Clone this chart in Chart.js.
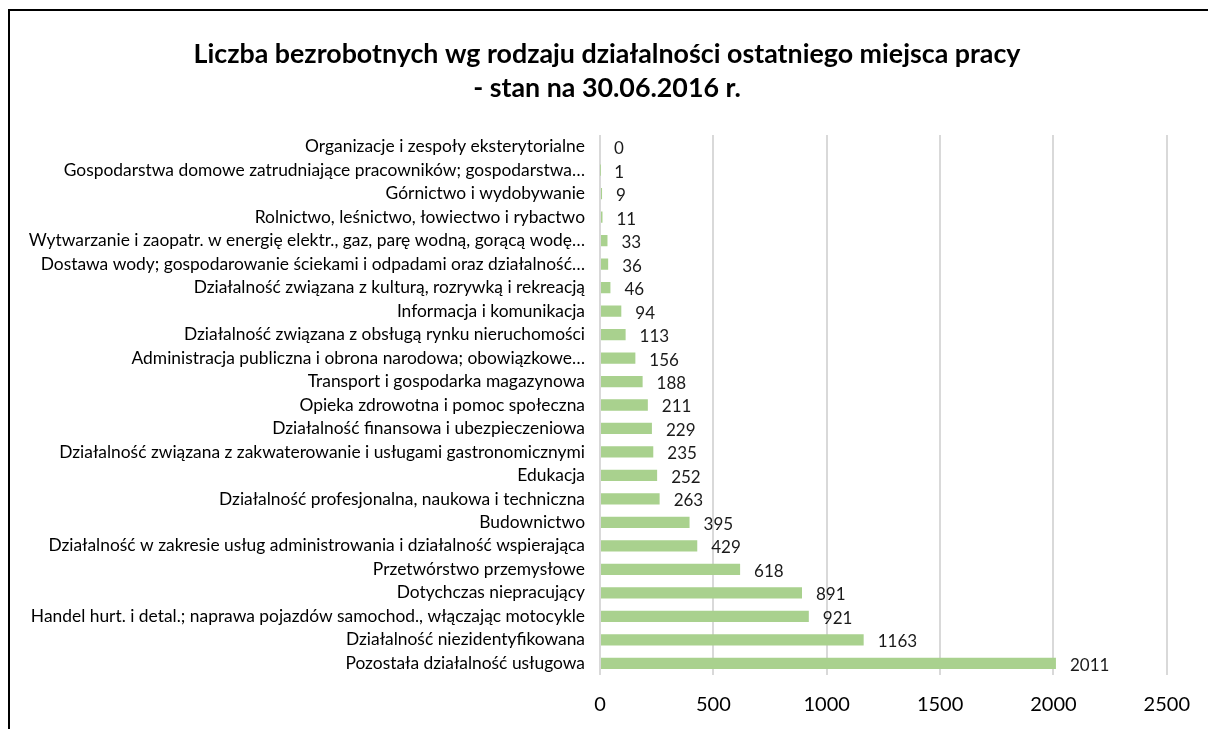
<!DOCTYPE html>
<html>
<head>
<meta charset="utf-8">
<script src="https://cdn.jsdelivr.net/npm/chart.js@4"></script>
<style>
  html, body { margin: 0; padding: 0; background: #fff; overflow: hidden; }
  #ramka { position: absolute; left: 8px; top: 9px; width: 1400px; height: 900px; border: 2px solid #000; }
  #wrap { position: absolute; left: 0; top: 0; width: 1208px; height: 729px; }
</style>
</head>
<body>
<div id="ramka"></div>
<div id="wrap"><canvas id="wykres" width="1208" height="729"></canvas></div>
<script>
// dane z wykresu
const kategorie = [
  'Organizacje i zespoły eksterytorialne',
  'Gospodarstwa domowe zatrudniające pracowników; gospodarstwa…',
  'Górnictwo i wydobywanie',
  'Rolnictwo, leśnictwo, łowiectwo i rybactwo',
  'Wytwarzanie i zaopatr. w energię elektr., gaz, parę wodną, gorącą wodę…',
  'Dostawa wody; gospodarowanie ściekami i odpadami oraz działalność…',
  'Działalność związana z kulturą, rozrywką i rekreacją',
  'Informacja i komunikacja',
  'Działalność związana z obsługą rynku nieruchomości',
  'Administracja publiczna i obrona narodowa; obowiązkowe…',
  'Transport i gospodarka magazynowa',
  'Opieka zdrowotna i pomoc społeczna',
  'Działalność finansowa i ubezpieczeniowa',
  'Działalność związana z zakwaterowanie i usługami gastronomicznymi',
  'Edukacja',
  'Działalność profesjonalna, naukowa i techniczna',
  'Budownictwo',
  'Działalność w zakresie usług administrowania i działalność wspierająca',
  'Przetwórstwo przemysłowe',
  'Dotychczas niepracujący',
  'Handel hurt. i detal.; naprawa pojazdów samochod., włączając motocykle',
  'Działalność niezidentyfikowana',
  'Pozostała działalność usługowa'
];
const bezrobotni = [0, 1, 9, 11, 33, 36, 46, 94, 113, 156, 188, 211, 229, 235, 252, 263, 395, 429, 618, 891, 921, 1163, 2011];
const tytul = ['Liczba bezrobotnych wg rodzaju działalności ostatniego miejsca pracy', '- stan na 30.06.2016 r.'];
const osX = { min: 0, max: 2500, krok: 500 };

const czcionka = 'Lato, "Noto Sans", sans-serif';

// tytuł rysowany na środku całego obrazka (nie nad obszarem wykresu)
const tytulWykresu = {
  id: 'tytulWykresu',
  afterDraw(chart) {
    const ctx = chart.ctx;
    ctx.save();
    ctx.font = 'bold 26.8px ' + czcionka;
    ctx.fillStyle = '#000';
    ctx.textAlign = 'center';
    ctx.textBaseline = 'middle';
    tytul.forEach((linia, i) => ctx.fillText(linia, 607, 54 + i * 34));
    ctx.restore();
  }
};

// etykiety wartości przy końcach słupków
const etykietyWartosci = {
  id: 'etykietyWartosci',
  afterDatasetsDraw(chart) {
    const ctx = chart.ctx;
    const meta = chart.getDatasetMeta(0);
    ctx.save();
    ctx.font = '17px ' + czcionka;
    ctx.fillStyle = '#1a1a1a';
    ctx.textAlign = 'left';
    ctx.textBaseline = 'middle';
    meta.data.forEach((bar, i) => {
      ctx.fillText(String(bezrobotni[i]), bar.x + 14, bar.y + 2);
    });
    ctx.restore();
  }
};

const ctx = document.getElementById('wykres').getContext('2d');
const myChart = new Chart(ctx, {
  type: 'bar',
  data: {
    labels: kategorie,
    datasets: [{
      data: bezrobotni,
      backgroundColor: '#a9d18e',
      borderWidth: 0,
      barPercentage: 0.48,
      categoryPercentage: 1
    }]
  },
  options: {
    indexAxis: 'y',
    responsive: false,
    animation: false,
    layout: { padding: { left: 0, right: 39, top: 135, bottom: 12 } },
    plugins: {
      legend: { display: false },
      tooltip: { enabled: false },
      title: { display: false }
    },
    scales: {
      x: {
        min: osX.min,
        max: osX.max,
        afterFit(scale) { scale.height = 42; },
        ticks: {
          stepSize: osX.krok,
          color: '#000',
          font: { family: czcionka, size: 20 },
          padding: 18,
          callback: (v) => String(v)
        },
        grid: { color: '#d9d9d9', lineWidth: 2, drawTicks: false },
        border: { display: false }
      },
      y: {
        afterFit(scale) { scale.width = 600; },
        ticks: {
          color: '#000',
          font: { family: czcionka, size: 17.4 },
          padding: 15,
          autoSkip: false
        },
        grid: { display: false, drawTicks: false },
        border: { display: false }
      }
    }
  },
  plugins: [etykietyWartosci, tytulWykresu]
});
</script>
</body>
</html>
